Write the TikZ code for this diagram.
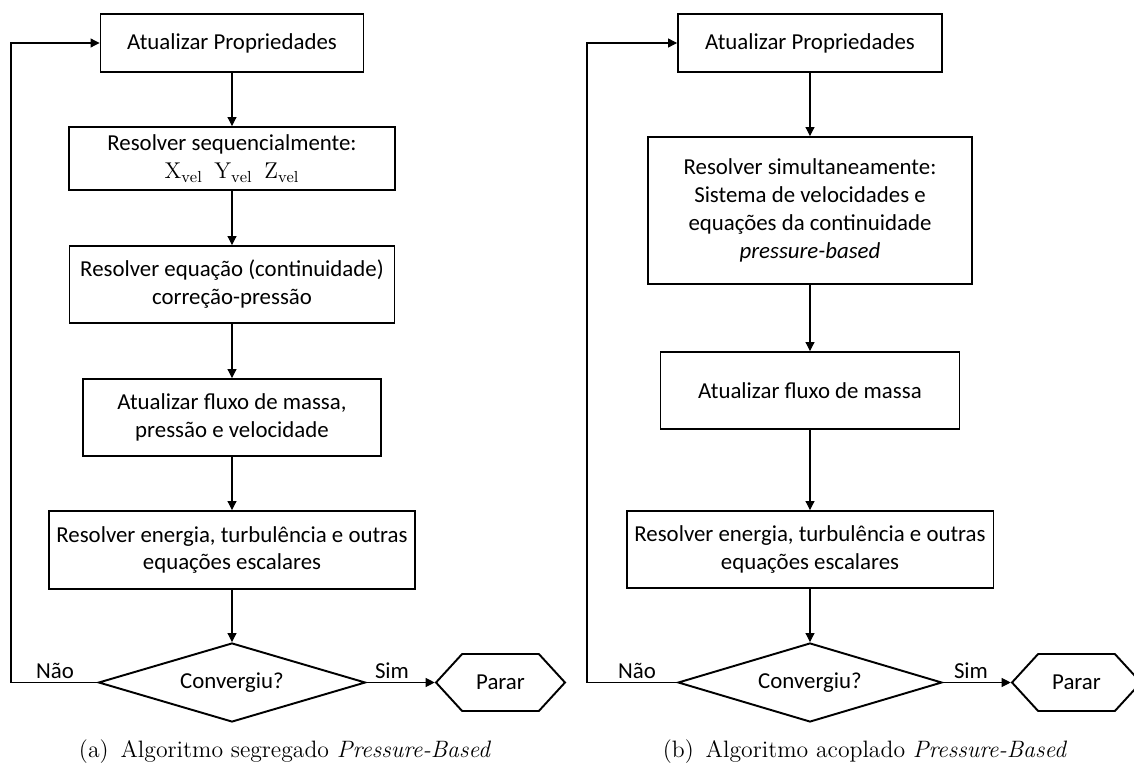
\documentclass[tikz,border=0pt]{standalone}
\usepackage{fontspec}
\newfontfamily\boxfont{Carlito}
\usetikzlibrary{arrows.meta,shapes.geometric,shapes.symbols}

\begin{document}
\begin{tikzpicture}[x=0.02cm,y=-0.02cm,
  box/.style={draw, line width=1.1pt, rectangle, align=center, inner sep=0pt,
    font=\boxfont\fontsize{13}{15.9}\selectfont},
  decision/.style={draw, line width=1.1pt, diamond, aspect=3.38, inner sep=0pt,
    minimum width=5.34cm, minimum height=1.58cm,
    font=\boxfont\fontsize{13}{15.9}\selectfont},
  stopbox/.style={draw, line width=1.1pt, signal, signal to=west and east,
    signal pointer angle=95, minimum width=2.58cm, minimum height=1.14cm,
    inner sep=0pt, font=\boxfont\fontsize{13}{15.9}\selectfont},
  lbl/.style={inner sep=0pt, anchor=south, font=\boxfont\fontsize{13}{15.9}\selectfont},
  caption/.style={inner sep=0pt, font=\fontsize{13.5}{16}\selectfont},
  link/.style={draw, line width=0.6pt, -{Triangle[length=0.18cm,width=0.18cm]}}]
\useasboundingbox (0,0) rectangle (1134,764);

% (a) segregado
\node[box, minimum width=5.26cm, minimum height=1.16cm] (la1) at (232,43) {Atualizar Propriedades};
\node[box, minimum width=6.52cm, minimum height=1.26cm] (la2) at (232,158.5)
  {Resolver sequencialmente:\\ $\mathrm{X_{vel}}\;\;\mathrm{Y_{vel}}\;\;\mathrm{Z_{vel}}$};
\node[box, minimum width=6.5cm, minimum height=1.54cm] (la3) at (232,284.5)
  {Resolver equação (continuidade)\\ correção-pressão};
\node[box, minimum width=5.96cm, minimum height=1.54cm] (la4) at (232,417.5)
  {Atualizar fluxo de massa,\\ pressão e velocidade};
\node[box, minimum width=7.32cm, minimum height=1.56cm] (la5) at (232,550)
  {Resolver energia, turbulência e outras\\ equações escalares};
\node[decision] (ldec) at (232,682.5) {Convergiu?};
\node[stopbox] (lstop) at (500.5,682.5) {Parar};
\coordinate (lback) at (11,682.5);

\path[link] (la1.south) -- (la2.north);
\path[link] (la2.south) -- (la3.north);
\path[link] (la3.south) -- (la4.north);
\path[link] (la4.south) -- (la5.north);
\path[link] (la5.south) -- (ldec.north);
\path[link] (ldec.east) -- (lstop.west);
\path[link] (ldec.west) -- (lback) |- (la1.west);

\node[lbl] (lno) at (55,679) {Não};
\node[lbl] (lsim) at (392,679) {Sim};
\node[caption] (lcap) at (285,752) {(a)\enspace Algoritmo segregado \textit{Pressure-Based}};

% (b) acoplado
\node[box, minimum width=5.28cm, minimum height=1.16cm] (ra1) at (810,43) {Atualizar Propriedades};
\node[box, minimum width=6.48cm, minimum height=2.94cm] (ra2) at (810,210.5)
  {Resolver simultaneamente:\\ Sistema de velocidades e\\ equações da continuidade\\ \textit{pressure-based}};
\node[box, minimum width=5.98cm, minimum height=1.54cm] (ra3) at (810,390.5) {Atualizar fluxo de massa};
\node[box, minimum width=7.34cm, minimum height=1.54cm] (ra4) at (810,549.5)
  {Resolver energia, turbulência e outras\\ equações escalares};
\node[decision, minimum width=5.28cm] (rdec) at (810,682.5) {Convergiu?};
\node[stopbox] (rstop) at (1076.5,682.5) {Parar};
\coordinate (rback) at (587,682.5);

\path[link] (ra1.south) -- (ra2.north);
\path[link] (ra2.south) -- (ra3.north);
\path[link] (ra3.south) -- (ra4.north);
\path[link] (ra4.south) -- (rdec.north);
\path[link] (rdec.east) -- (rstop.west);
\path[link] (rdec.west) -- (rback) |- (ra1.west);

\node[lbl] (rno) at (637,679) {Não};
\node[lbl] (rsim) at (971,679) {Sim};
\node[caption] (rcap) at (865,752) {(b)\enspace Algoritmo acoplado \textit{Pressure-Based}};
\end{tikzpicture}
\end{document}
